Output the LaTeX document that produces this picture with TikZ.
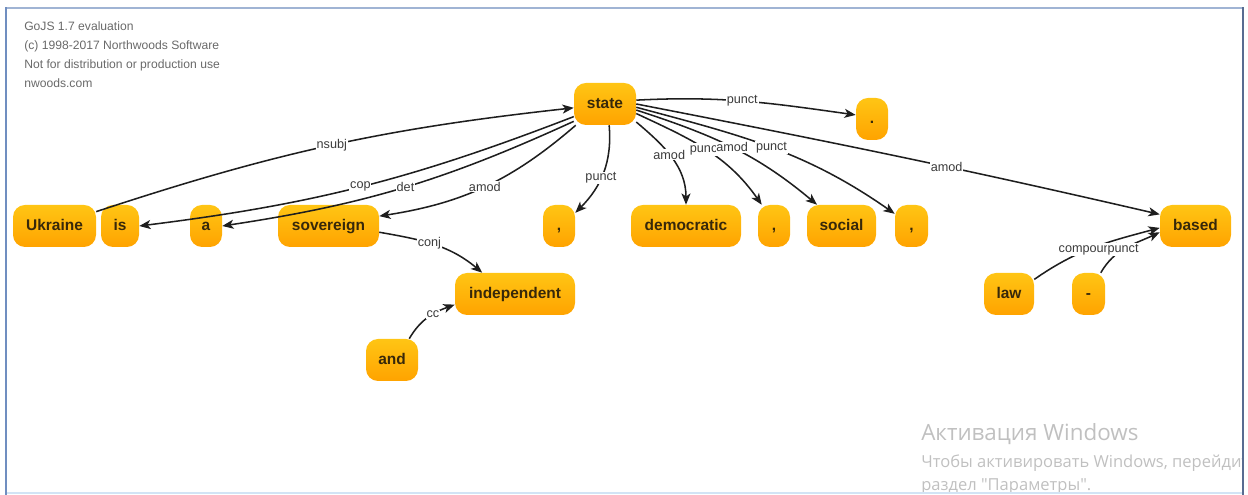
\documentclass[tikz,border=0pt]{standalone}
\usepackage{fontspec}
\setmainfont{Liberation Sans}
\newfontfamily\winfont{Open Sans}
\usetikzlibrary{arrows.meta}

\definecolor{nodetop}{RGB}{255,197,20}
\definecolor{nodebot}{RGB}{255,163,0}
\definecolor{wordtext}{RGB}{55,40,10}
\definecolor{linkgray}{RGB}{30,30,30}
\definecolor{labelgray}{RGB}{60,60,60}
\definecolor{notegray}{RGB}{105,105,105}
\definecolor{wingray}{RGB}{192,192,192}
\definecolor{frameleft}{RGB}{112,142,192}
\definecolor{frametop}{RGB}{160,180,212}
\definecolor{frameright}{RGB}{88,108,145}
\definecolor{framebottom}{RGB}{210,228,245}

\begin{document}
\begin{tikzpicture}[x=0.75pt,y=0.75pt,
  word/.style={rectangle, rounded corners=9pt, top color=nodetop, bottom color=nodebot,
    minimum height=31.5pt, inner xsep=0pt, text=wordtext,
    text height=0.72em, text depth=0em,
    font=\bfseries\fontsize{11.6}{13}\selectfont},
  wd/.style={minimum width=#1*0.75pt},
  link/.style={draw=linkgray, line width=1.15pt,
    -{Stealth[length=8.5pt,width=6.8pt,inset=2.3pt]}},
  lbl/.style={fill=white, inner sep=0.6pt, text=labelgray,
    font=\fontsize{9.5}{11}\selectfont},
  note/.style={anchor=base west, inner sep=0pt, text=notegray,
    font=\fontsize{9.1}{11}\selectfont},
  winnote/.style={anchor=base west, inner sep=0pt, text=wingray},
]
\useasboundingbox (0,0) rectangle (1248,495);

% evaluation notice
\node[note] (gojsA) at (24,464) {GoJS 1.7 evaluation};
\node[note] (gojsB) at (24,445) {(c) 1998-2017 Northwoods Software};
\node[note] (gojsC) at (24,426) {Not for distribution or production use};
\node[note] (gojsD) at (24,407) {nwoods.com};

% words of the sentence
\node[word, wd=62]  (state)       at (605,391)   {state};
\node[word, wd=32]  (dot)         at (872,376)   {.};
\node[word, wd=83]  (Ukraine)     at (54.5,269)  {Ukraine};
\node[word, wd=38]  (is)          at (120,269)   {is};
\node[word, wd=32]  (a)           at (206,269)   {a};
\node[word, wd=101] (sovereign)   at (328.5,269) {sovereign};
\node[word, wd=32]  (c1)          at (559,269)   {,};
\node[word, wd=110] (democratic)  at (686,269)   {democratic};
\node[word, wd=32]  (c2)          at (774,269)   {,};
\node[word, wd=69]  (social)      at (841.5,269) {social};
\node[word, wd=33]  (c3)          at (911.5,269) {,};
\node[word, wd=71]  (based)       at (1195.5,269){based};
\node[word, wd=120] (independent) at (515,201)   {independent};
\node[word, wd=52]  (and)         at (392,135)   {and};
\node[word, wd=50]  (law)         at (1009,201)  {law};
\node[word, wd=33]  (dash)        at (1088.5,201){-};

% dependency arcs
\draw[link] (Ukraine.19) to[bend left=6] node[lbl,pos=.5]{nsubj} (state.187);
\draw[link] (state.202) to[bend left=7] node[lbl,pos=.5]{cop} (is.east);
\draw[link] (state.209) to[bend left=8] node[lbl,pos=.49]{det} (a.east);
\draw[link] (state.216) to[bend left=16] node[lbl,pos=.5]{amod} (sovereign.11);
\draw[link] (sovereign.353) to[out=-10,in=140] node[lbl,pos=.45]{conj} (independent.147);
\draw[link] (and.51) to[out=60,in=200] node[lbl,pos=.6]{cc} (independent.190);
\draw[link] (state.281) to[out=-85,in=45] node[lbl,pos=.56]{punct} (c1.39);
\draw[link] (state.330) to[out=-40,in=90] node[lbl,pos=.45]{amod} (democratic.north);
\draw[link] (state.343) to[out=-25,in=125] node[lbl,pos=.49]{punct} (c2.120);
\draw[link] (state.349) to[out=-18,in=140] node[lbl,pos=.5]{amod} (social.139);
\draw[link] (state.354) to[out=-15,in=145] node[lbl,pos=.5]{punct} (c3.144);
\draw[link] (state.0) to[out=-11,in=167] node[lbl,pos=.6]{amod} (based.162);
\draw[link] (state.7) to[out=3,in=172] node[lbl,pos=.48]{punct} (dot.166);
\draw[link] (law.30) to[out=35,in=195] node[lbl,pos=.45]{compound} (based.183);
\draw[link] (dash.60) to[out=60,in=205] node[lbl,pos=.45]{punct} (based.190);

% system notice in the lower right corner
\begin{scope}
  \clip (0,0) rectangle (1242,495);
  \node[winnote, font=\winfont\fontsize{16.8}{20}\selectfont] (winA) at (921,54) {Активация Windows};
  \node[winnote, font=\winfont\fontsize{12.4}{15}\selectfont] (winB) at (921,27) {Чтобы активировать Windows, перейдите в};
  \node[winnote, font=\winfont\fontsize{12.4}{15}\selectfont] (winC) at (921,4) {раздел "Параметры".};
\end{scope}

% window frame
\draw[framebottom, line width=1.2pt] (5,2) -- (1243,2);
\draw[frametop, line width=1.6pt] (5,487) -- (1244,487);
\draw[frameleft, line width=2pt] (6,0) -- (6,487.5);
\draw[frameright, line width=1.6pt] (1243,0) -- (1243,487.5);
\end{tikzpicture}
\end{document}
